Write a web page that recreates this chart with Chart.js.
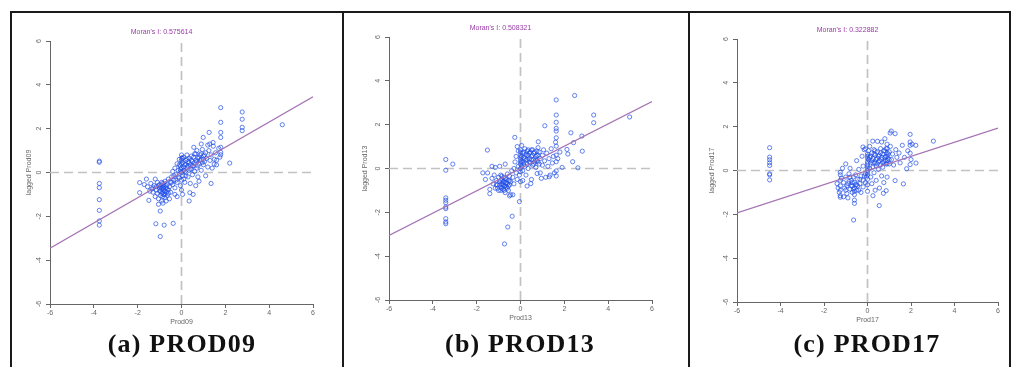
<!DOCTYPE html>
<html>
<head>
<meta charset="utf-8">
<script src="https://cdn.jsdelivr.net/npm/chart.js@4.4.1/dist/chart.umd.min.js"></script>
<style>
  body { margin: 0; background: #fff; width: 1021px; height: 367px; overflow: hidden; position: relative; }
  .rule { position: absolute; background: #1a1a1a; }
  canvas { position: absolute; }
  .caption { position: absolute; top: 329px; width: 260px; text-align: center; letter-spacing: 1.2px;
    font-family: "Liberation Serif", serif; font-weight: bold; font-size: 26px; color: #111; }
</style>
</head>
<body>
<div class="rule" style="left:10px;top:11px;width:1001px;height:2px"></div>
<div class="rule" style="left:10px;top:11px;width:2px;height:356px"></div>
<div class="rule" style="left:342px;top:11px;width:2px;height:356px"></div>
<div class="rule" style="left:688px;top:11px;width:2px;height:356px"></div>
<div class="rule" style="left:1009px;top:11px;width:2px;height:356px"></div>

<canvas id="chartA" width="323" height="319" style="left:10px;top:11px"></canvas>
<canvas id="chartB" width="323" height="319" style="left:349px;top:7px"></canvas>
<canvas id="chartC" width="321" height="319" style="left:697px;top:9px"></canvas>

<div class="caption" style="left:52px">(a) PROD09</div>
<div class="caption" style="left:390px">(b) PROD13</div>
<div class="caption" style="left:737px">(c) PROD17</div>

<script>
// Moran scatter plots: x = standardised value, y = spatially lagged value
const variables = ["Prod09", "Prod13", "Prod17"];
const moranI = [0.575614, 0.508321, 0.322882];
const axisTicks = [-6, -4, -2, 0, 2, 4, 6];

const prod09Points = [
    [-3.75,0.52],[-3.75,0.47],[-3.75,-0.5],[-3.75,-0.69],[-3.75,-1.24],[-3.75,-1.73],[-3.75,-2.21],[-3.75,-2.4],
    [-1.17,-2.34],[-0.79,-2.4],[-0.38,-2.32],[-0.97,-2.92],[-0.97,-1.76],
    [-1.91,-0.46],[-1.91,-0.92],[-1.49,-1.27],
    [0.35,-1.3],[0.38,-0.92],[0.53,-1.0],[1.35,-0.5],[2.2,0.43],
    [1.79,2.96],[1.79,2.29],[1.79,1.83],[1.79,1.6],[1.79,1.15],[1.79,0.92],[1.79,0.81],
    [2.77,2.76],[2.77,2.43],[2.77,2.06],[2.77,1.91],[4.6,2.18],
    [1.26,1.83],[0.99,1.6],[1.29,1.3],[0.56,1.15],[1.44,1.37],[1.49,0.38],[1.6,0.56],
    [-1.4,-0.5],[-1.35,-0.75],[-1.3,-0.9],[-1.25,-0.6],[-1.2,-1.1],[-1.15,-0.8],[-1.1,-0.45],[-1.1,-0.95],
    [-1.05,-1.2],[-1.0,-0.7],[-1.0,-0.55],[-0.95,-0.85],[-0.95,-1.05],[-0.9,-0.6],[-0.9,-0.75],[-0.9,-1.3],
    [-0.85,-0.9],[-0.85,-0.5],[-0.8,-0.65],[-0.8,-1.0],[-0.8,-0.8],[-0.75,-1.15],[-0.75,-0.4],[-0.7,-0.7],
    [-0.7,-0.9],[-0.65,-0.55],[-0.65,-1.05],[-0.6,-0.8],[-0.6,-0.3],[-0.55,-0.65],[-0.55,-1.2],[-0.5,-0.45],
    [-0.5,-0.9],[-1.6,-0.3],[-1.55,-0.65],[-1.7,-0.55],[-1.2,-0.3],[-1.05,-1.45],[-0.85,-1.4],[-0.7,-1.3],
    [-0.45,-0.2],[-0.4,-0.55],[-0.4,0.05],[-0.35,-0.35],[-0.3,-0.7],[-0.3,0.2],[-0.25,-0.1],[-0.2,-0.45],
    [-0.2,0.4],[-0.15,0.1],[-0.1,-0.25],[-0.1,0.6],[-0.05,-0.6],[-0.05,0.3],[0.0,0.0],[0.0,0.8],
    [0.0,0.55],[0.0,-0.35],[0.0,-0.8],[0.0,0.2],[0.05,0.45],[0.05,-0.15],[0.1,0.7],[0.1,0.1],
    [0.15,0.35],[0.15,-0.45],[0.2,0.55],[0.2,0.0],[0.25,0.25],[0.25,0.8],[0.3,-0.2],[0.3,0.5],
    [0.35,0.1],[0.35,0.65],[0.4,0.35],[0.4,-0.5],[0.45,0.75],[0.45,0.15],[0.5,0.5],[0.5,-0.1],
    [-0.3,-1.0],[-0.2,-1.1],[0.05,-1.0],
    [0.55,0.3],[0.6,0.85],[0.6,0.05],[0.65,0.55],[0.7,0.2],[0.7,1.0],[0.75,0.65],[0.75,-0.2],
    [0.8,0.4],[0.85,0.8],[0.9,0.1],[0.9,0.6],[0.95,1.05],[1.0,0.35],[1.0,0.75],[1.05,0.5],
    [1.1,0.9],[1.1,-0.15],[1.15,0.65],[1.2,0.25],[1.25,1.0],[1.3,0.55],[1.35,0.8],[1.4,0.2],
    [1.45,1.2],[1.5,0.6],[1.55,0.9],[1.6,0.35],[1.7,1.1],[1.75,0.7],[0.8,-0.4],[0.65,-0.6],
    [1.2,1.25],[0.9,1.3],
    [-1.0,-0.85],[-0.95,-0.65],[-0.9,-0.95],[-0.85,-0.7],[-0.8,-0.55],[-0.75,-0.85],[-0.7,-0.6],[-0.65,-0.75],
    [-0.9,-0.45],[-1.05,-0.6],[-0.6,-0.95],[-1.15,-0.65],[-0.75,-1.0],[-0.85,-1.1],[-1.3,-0.7],[-1.45,-0.85],
    [-0.1,0.35],[-0.05,0.05],[0.05,0.65],[0.1,0.25],[0.15,0.05],[0.2,0.35],[0.25,0.6],[0.3,0.3],
    [0.35,0.45],[0.4,0.15],[0.45,0.55],[0.5,0.3],[0.55,0.7],[0.6,0.45],[0.65,0.85],[0.7,0.5],
    [0.75,0.3],[0.8,0.7],[0.85,0.55],[0.9,0.85],[0.95,0.45],[1.0,0.6],[1.05,0.8],[0.0,0.4],
    [-0.35,-0.15],[-0.25,-0.35],[-0.15,-0.2],[-0.45,-0.45],[0.1,-0.3],[0.2,-0.15],[0.0,0.65],[-0.05,0.15]
];

const prod13Points = [
    [-3.41,0.41],[-3.41,-0.08],[-3.09,0.2],
    [-3.41,-1.34],[-3.41,-1.45],[-3.41,-1.56],[-3.41,-1.76],[-3.41,-1.83],[-3.41,-2.29],[-3.41,-2.44],[-3.41,-2.52],
    [-1.51,0.84],[-1.72,-0.2],[-0.38,-2.18],[-0.58,-2.67],[-0.73,-3.44],[-0.05,-1.51],
    [1.63,3.13],[1.63,2.44],[1.63,2.11],[1.63,1.83],[1.63,1.71],[1.63,1.4],[1.63,1.02],[1.63,0.61],
    [1.63,0.31],[1.63,-0.11],[1.63,-0.34],
    [2.47,3.33],[3.34,2.44],[3.34,2.09],[4.98,2.35],[1.11,1.95],
    [2.3,1.63],[2.8,1.48],[2.42,1.18],[2.12,0.87],[2.16,0.66],[2.38,0.31],[2.62,0.03],[2.82,0.79],
    [1.31,-0.38],[0.81,1.22],[-0.26,1.42],[0.76,-0.23],[0.47,-0.69],
    [-1.3,-0.45],[-1.25,-0.7],[-1.2,-0.3],[-1.15,-0.9],[-1.1,-0.55],[-1.05,-0.75],[-1.0,-0.4],[-1.0,-1.0],
    [-0.95,-0.6],[-0.9,-0.85],[-0.9,-0.3],[-0.85,-0.7],[-0.85,-0.5],[-0.8,-0.95],[-0.8,-0.6],[-0.75,-0.8],
    [-0.75,-0.4],[-0.7,-0.65],[-0.7,-1.1],[-0.65,-0.5],[-0.65,-0.85],[-0.6,-0.7],[-0.6,-0.25],[-0.55,-0.55],
    [-0.55,-1.0],[-0.5,-0.75],[-0.5,-0.35],[-0.45,-0.6],[-0.45,-1.2],[-0.4,-0.1],[-1.4,-0.95],[-1.4,-1.15],
    [-1.5,-0.2],[-1.6,-0.5],[-1.3,0.1],[-1.15,0.05],[-0.95,0.1],[-0.7,0.2],[-0.5,-1.25],[-0.35,-1.2],
    [-0.35,-0.4],[-0.3,0.0],[-0.3,-0.7],[-0.25,0.3],[-0.2,-0.2],[-0.2,0.55],[-0.15,-0.5],[-0.1,0.1],
    [-0.1,0.8],[-0.05,-0.3],[0.0,0.0],[0.0,0.2],[0.0,0.4],[0.0,0.6],[0.0,0.85],[0.0,-0.15],
    [0.0,-0.6],[0.05,1.05],[0.1,0.3],[0.1,-0.1],[0.15,0.5],[0.15,0.75],[0.2,0.1],[0.2,0.9],
    [0.25,0.4],[0.25,-0.3],[0.3,0.6],[0.3,0.2],[0.35,0.85],[0.35,0.0],[0.4,0.45],[0.4,0.7],
    [0.45,0.25],[0.5,0.55],[0.5,-0.5],[0.55,0.85],[0.55,0.15],[0.6,0.4],[0.6,0.7],[0.65,0.3],
    [0.7,0.55],[0.7,0.05],[0.75,0.8],[0.75,0.35],[0.8,0.95],[0.8,0.6],[0.85,0.2],[0.9,0.45],
    [0.9,-0.2],[0.3,-0.8],[0.1,-0.55],[-0.15,1.0],
    [1.0,0.6],[1.0,0.15],[1.05,0.85],[1.1,0.35],[1.15,-0.4],[1.2,0.7],[1.25,0.1],[1.3,0.45],
    [1.4,0.9],[1.45,0.25],[1.5,0.55],[1.55,-0.2],[1.6,1.2],[1.7,0.45],[1.8,0.75],[1.9,0.05],
    [0.95,-0.45],[1.35,-0.3],
    [-0.95,-0.75],[-0.9,-0.55],[-0.85,-0.9],[-0.8,-0.75],[-0.75,-0.6],[-0.7,-0.8],[-0.65,-0.65],[-0.6,-0.9],
    [-0.9,-1.0],[-1.05,-0.9],[-0.55,-0.8],[-0.85,-0.35],[-1.1,-0.75],[-0.7,-0.45],[-0.5,-0.55],[-0.75,-1.0],
    [0.05,0.3],[0.05,0.55],[0.1,0.7],[0.15,0.2],[0.2,0.45],[0.25,0.65],[0.3,0.4],[0.35,0.6],
    [0.4,0.3],[0.45,0.75],[0.5,0.4],[0.55,0.6],[0.6,0.2],[0.65,0.75],[0.7,0.4],[0.75,0.6],
    [0.8,0.3],[0.85,0.75],[0.0,0.3],[0.0,0.5],[0.0,0.75],[0.05,0.1],[0.3,0.8],[0.5,0.85]
];

const prod17Points = [
    [-4.5,1.04],[-4.5,0.61],[-4.5,0.49],[-4.5,0.35],[-4.5,0.23],[-4.5,-0.15],[-4.5,-0.2],[-4.5,-0.43],
    [-0.64,-2.26],[0.54,-1.6],
    [1.04,1.71],[1.27,1.68],[1.96,1.65],[3.03,1.34],[1.09,1.8],[0.24,1.34],[0.46,1.33],
    [1.96,1.3],[1.96,1.15],[1.96,0.79],[1.96,0.27],[2.23,0.34],[2.22,1.15],[1.8,0.08],[1.65,-0.61],
    [1.27,-0.46],[0.73,-1.04],[0.86,-0.92],
    [-1.25,-0.08],[-1.25,-1.22],[-0.21,1.07],[-0.09,0.99],
    [-1.4,-0.6],[-1.35,-0.8],[-1.3,-1.0],[-1.25,-0.2],[-1.25,-0.45],[-1.25,-0.7],[-1.25,-0.9],[-1.25,-1.15],
    [-1.2,-0.35],[-1.1,-0.55],[-1.05,-0.8],[-1.0,0.3],[-1.0,-0.3],[-0.95,-1.05],[-0.9,-0.6],[-0.85,-0.15],
    [-0.8,-0.85],[-0.8,0.1],[-0.75,-0.45],[-0.7,-1.0],[-0.7,-0.7],[-0.65,-0.3],[-0.6,-0.55],[-0.6,-0.8],
    [-0.6,-0.95],[-0.6,-1.1],[-0.6,-1.35],[-0.6,-1.5],[-0.55,-0.2],[-0.5,0.45],[-0.5,-0.65],[-0.45,-0.4],
    [-0.4,-0.9],[-0.4,0.05],[-0.35,-0.6],[-0.3,-0.25],[-0.3,-1.0],[-0.25,0.65],[-0.2,-0.45],[-0.2,0.2],
    [-0.2,-0.75],[-0.15,0.95],[-0.1,-0.15],[-0.1,-0.55],[-1.15,0.1],[-0.9,-1.25],[-1.1,-1.2],[-0.8,-0.3],
    [0.0,0.0],[0.0,0.2],[0.0,0.4],[0.0,0.55],[0.0,0.75],[0.0,-0.2],[0.0,-0.4],[0.0,-0.65],
    [0.0,-0.95],[0.05,0.9],[0.1,0.1],[0.1,0.6],[0.15,-0.3],[0.15,0.35],[0.2,0.8],[0.2,-0.6],
    [0.25,0.15],[0.25,0.55],[0.3,0.95],[0.3,-0.1],[0.35,0.35],[0.35,0.7],[0.4,-0.45],[0.4,0.2],
    [0.45,0.55],[0.45,0.85],[0.5,0.05],[0.5,0.4],[0.55,0.7],[0.55,-0.8],[0.6,0.25],[0.6,1.0],
    [0.65,0.5],[0.65,-0.25],[0.7,0.15],[0.7,0.75],[0.75,0.4],[0.75,-0.55],[0.8,0.6],[0.8,0.9],
    [0.85,0.3],[0.9,0.45],[0.9,0.65],[0.9,0.8],[0.9,1.0],[0.9,1.2],[0.9,-0.3],[0.95,0.55],
    [1.0,0.3],[1.0,0.85],[1.05,1.1],[1.1,0.5],[1.15,0.75],[1.2,0.25],[1.3,0.95],[1.35,0.6],
    [1.45,0.8],[1.5,0.35],[1.6,1.15],[1.7,0.6],[1.85,0.9],[0.35,-0.9],[0.25,-1.15],[0.1,1.1],
    [0.65,1.3],[0.8,1.45],[2.05,1.2],[2.0,0.5],
    [0.05,0.5],[0.15,0.65],[0.25,0.35],[0.3,0.75],[0.4,0.5],[0.45,0.3],[0.5,0.65],[0.55,0.45],
    [0.6,0.8],[0.65,0.6],[0.7,0.35],[0.75,0.9],[0.8,0.45],[0.85,0.65],[0.85,1.0],[0.9,0.3],
    [0.95,0.75],[1.0,0.5],[0.35,0.9],[0.2,0.45],
    [-0.7,-0.55],[-0.65,-0.85],[-0.55,-0.65],[-0.5,-0.9],[-0.75,-0.7],[-0.85,-0.5],[-0.95,-0.7],[-1.0,-0.9],
    [-0.45,-0.7],[-0.35,-0.4],[0.0,0.1],[0.0,0.3],[0.0,0.65],[-0.05,-0.3],[0.0,-0.1],[-0.15,-0.25]
];

const panelPoints = [prod09Points, prod13Points, prod17Points];
const canvasIds = ["chartA", "chartB", "chartC"];
const yTitleGap = [15.1, 11.8, 10.5];

const tickFont = { family: "Liberation Sans, Arial, sans-serif", size: 7 };

const makeChart = (idx) => {
    const slope = moranI[idx];
    const lo = axisTicks[0], hi = axisTicks[axisTicks.length - 1];
    const axisBase = (title, isY) => ({
        type: 'linear',
        min: lo,
        max: hi,
        afterBuildTicks: scale => { scale.ticks = axisTicks.map(v => ({ value: v })); },
        afterFit: scale => {
            if (isY) scale.width = 40; else scale.height = 26;
        },
        grid: { drawOnChartArea: false, drawTicks: true, tickLength: 4, color: '#666' },
        border: { display: true, color: '#666', width: 1 },
        ticks: isY
            ? { font: tickFont, color: '#666', padding: 4, minRotation: 90, maxRotation: 90, crossAlign: 'center' }
            : { font: tickFont, color: '#666', padding: 1, maxRotation: 0 },
        title: {
            display: true,
            text: title,
            font: tickFont,
            color: '#666',
            padding: isY ? { top: yTitleGap[idx], bottom: 0 } : { top: 0, bottom: 3.8 }
        }
    });

    return new Chart(document.getElementById(canvasIds[idx]), {
        type: 'scatter',
        data: {
            datasets: [
                {
                    // regression line, slope equals Moran's I
                    data: [{ x: lo, y: lo * slope }, { x: hi, y: hi * slope }],
                    showLine: true,
                    borderColor: '#a473b4',
                    borderWidth: 1.2,
                    pointRadius: 0
                },
                {
                    data: panelPoints[idx].map(p => ({ x: p[0], y: p[1] })),
                    pointStyle: 'circle',
                    pointRadius: 2.1,
                    borderWidth: 1,
                    borderColor: 'rgba(30,75,230,0.68)',
                    backgroundColor: 'rgba(0,0,0,0)'
                },
                {
                    data: [{ x: lo, y: 0 }, { x: hi, y: 0 }],
                    showLine: true,
                    borderColor: '#c2c2c2',
                    borderWidth: 1.7,
                    borderDash: [9, 5],
                    pointRadius: 0
                },
                {
                    data: [{ x: 0, y: lo }, { x: 0, y: hi }],
                    showLine: true,
                    borderColor: '#c2c2c2',
                    borderWidth: 1.7,
                    borderDash: [9, 5],
                    pointRadius: 0
                }
            ]
        },
        options: {
            responsive: false,
            animation: false,
            layout: { padding: { left: 0, right: 20, top: 0, bottom: 0 } },
            plugins: {
                legend: { display: false },
                tooltip: { enabled: false },
                title: {
                    display: true,
                    text: "Moran's I: " + moranI[idx],
                    color: '#9a3aa8',
                    font: { family: "Liberation Sans, Arial, sans-serif", size: 7, weight: 'normal' },
                    padding: { top: 16.5, bottom: 5.1 }
                }
            },
            scales: {
                x: axisBase(variables[idx], false),
                y: axisBase("lagged " + variables[idx], true)
            }
        }
    });
};

variables.forEach((v, i) => makeChart(i));
</script>
</body>
</html>
